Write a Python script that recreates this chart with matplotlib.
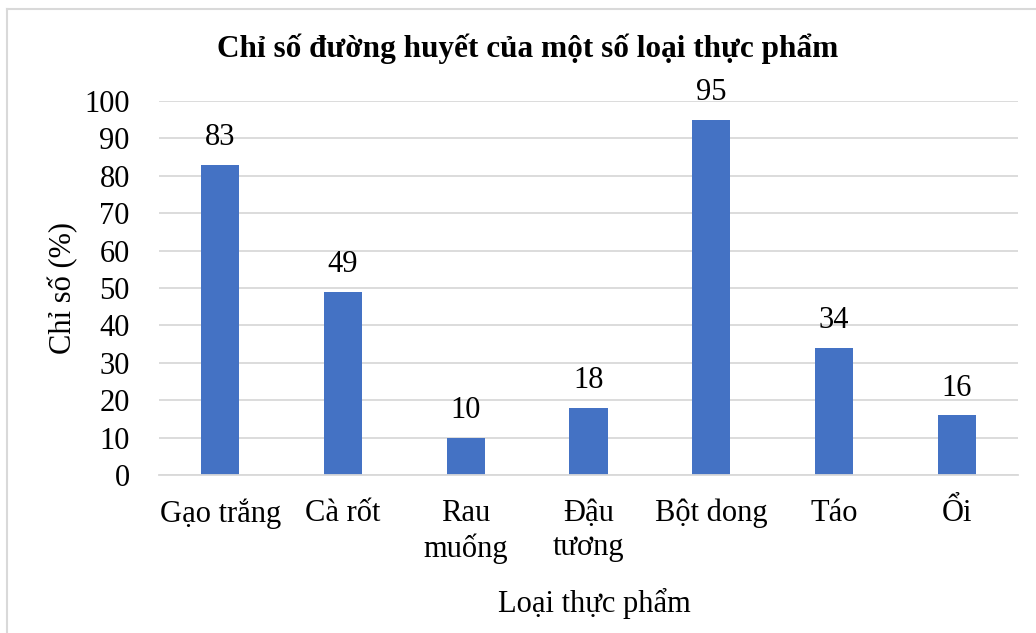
import matplotlib
matplotlib.use("Agg")
import matplotlib.pyplot as plt
from matplotlib.lines import Line2D

categories = ["Gạo trắng", "Cà rốt", "Rau\nmuống", "Đậu\ntương", "Bột dong", "Táo", "Ổi"]
values = [83, 49, 10, 18, 95, 34, 16]
yticks = [0, 10, 20, 30, 40, 50, 60, 70, 80, 90, 100]

title = "Chỉ số đường huyết của một số loại thực phẩm"
ylabel = "Chỉ số (%)"
xlabel = "Loại thực phẩm"

serif = ["Liberation Serif", "DejaVu Serif"]
plt.rcParams["font.family"] = serif

W, H = 1036, 633
fig = plt.figure(figsize=(W / 100, H / 100), dpi=100)
ax = fig.add_axes([159 / W, 1 - 475 / H, (1018 - 159) / W, (475 - 101) / H])

x = list(range(len(categories)))
bars = ax.bar(x, values, width=0.31, color="#4472C4", zorder=3)

ax.set_xlim(-0.5, len(categories) - 0.5)
ax.set_ylim(0, 100)
ax.set_yticks(yticks)
ax.set_xticks(x)
ax.set_xticklabels(categories, fontsize=22, linespacing=1.25, va="top")
ax.tick_params(axis="x", length=0, pad=17)
ax.tick_params(axis="y", length=0, pad=21, labelsize=22)

ax.grid(axis="y", color="#D9D9D9", linewidth=1.3, zorder=0)
for s in ["top", "right", "left"]:
    ax.spines[s].set_visible(False)
ax.spines["bottom"].set_color("#D9D9D9")
ax.spines["bottom"].set_linewidth(1.3)
ax.spines["bottom"].set_zorder(4)

for xi, v in zip(x, values):
    ax.annotate(str(v), (xi, v), xytext=(0, 9), textcoords="offset points",
                ha="center", va="bottom", fontsize=22)

fig.text(528 / W, 1 - 49 / H, title, ha="center", va="center",
         fontsize=22.5, fontweight="bold")
fig.text(63 / W, 1 - 288 / H, ylabel, ha="center", va="center",
         rotation=90, fontsize=22)
fig.text(594 / W, 1 - 603 / H, xlabel, ha="center", va="center", fontsize=22)

# light frame along the top and left edges
fig.add_artist(Line2D([7 / W, 7 / W], [0, 1 - 8.5 / H], transform=fig.transFigure,
                      color="#D9D9D9", linewidth=1.5))
fig.add_artist(Line2D([7 / W, 1], [1 - 8.5 / H, 1 - 8.5 / H], transform=fig.transFigure,
                      color="#D9D9D9", linewidth=1.5))

fig.savefig("out.png", dpi=100, facecolor="white")
